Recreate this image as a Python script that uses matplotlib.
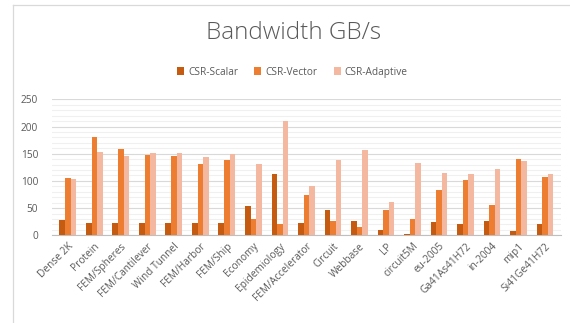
import numpy as np
import matplotlib.pyplot as plt
from matplotlib.lines import Line2D

# 矩阵名称与三种 CSR 内核的带宽 (GB/s)
matrices = ['Dense 2K', 'Protein', 'FEM/Spheres', 'FEM/Cantilever', 'Wind Tunnel',
            'FEM/Harbor', 'FEM/Ship', 'Economy', 'Epidemiology', 'FEM/Accelerator',
            'Circuit', 'Webbase', 'LP', 'circuit5M', 'eu-2005', 'Ga41As41H72',
            'in-2004', 'mip1', 'Si41Ge41H72']
csr_scalar = [28, 22, 22, 22, 22, 22, 22, 54, 113, 23, 46, 26, 9, 2.5, 25, 21, 26, 7, 21]
csr_vector = [105, 181, 158, 148, 146, 132, 138, 30, 20, 75, 26, 15, 46, 30, 83, 101, 56, 140, 107]
csr_adaptive = [103, 154, 146, 152, 152, 144, 150, 131, 211, 91, 138, 156, 61, 133, 115, 113, 121, 137, 113]
series_names = ['CSR-Scalar', 'CSR-Vector', 'CSR-Adaptive']
series_colors = ['#C55A11', '#ED7D31', '#F4B8A0']

plt.rcParams['font.family'] = ['Open Sans', 'DejaVu Sans']
txt = '#595959'

fig = plt.figure(figsize=(5.7, 3.23), dpi=100)
ax = fig.add_axes([0.091, 0.2715, 0.893, 0.421])

x = np.arange(len(matrices))
w = 0.21
for k, (vals, name, c) in enumerate(zip([csr_scalar, csr_vector, csr_adaptive], series_names, series_colors)):
    ax.bar(x + (k - 1) * w, vals, w, color=c, label=name, zorder=3)

ax.set_xlim(-0.6, len(matrices) - 0.4)
ax.set_ylim(0, 250)
ax.set_yticks(range(0, 251, 50))
ax.set_yticks(range(0, 251, 10), minor=True)
ax.grid(axis='y', which='major', color='#D9D9D9', lw=0.8, zorder=0)
ax.grid(axis='y', which='minor', color='#F0F0F0', lw=0.8, zorder=0)
for s in ['top', 'right', 'left']:
    ax.spines[s].set_visible(False)
ax.spines['bottom'].set_color('#BFBFBF')
ax.tick_params(axis='both', which='both', length=0, colors=txt, labelsize=7.3)
ax.tick_params(axis='y', pad=10)
ax.set_xticks(x)
ax.set_xticklabels(matrices, rotation=45, ha='right', rotation_mode='anchor')
ax.tick_params(axis='x', pad=4)

fig.text(0.515, 0.897, 'Bandwidth GB/s', ha='center', va='center', fontsize=17.5, color=txt,
         fontweight='light')
fig.legend(loc='center', bbox_to_anchor=(0.513, 0.777), ncol=3, frameon=False, fontsize=7.3,
           labelcolor=txt, handlelength=0.7, handleheight=0.7, handletextpad=0.4, columnspacing=1.6)

# 图表外框（左、上）
fig.add_artist(Line2D([12.5 / 570, 12.5 / 570], [0.0, 1 - 4.5 / 323], color='#D9D9D9', lw=0.9))
fig.add_artist(Line2D([12.5 / 570, 1.0], [1 - 4.5 / 323, 1 - 4.5 / 323], color='#D9D9D9', lw=0.9))

fig.savefig('out.png', dpi=100, facecolor='white')
